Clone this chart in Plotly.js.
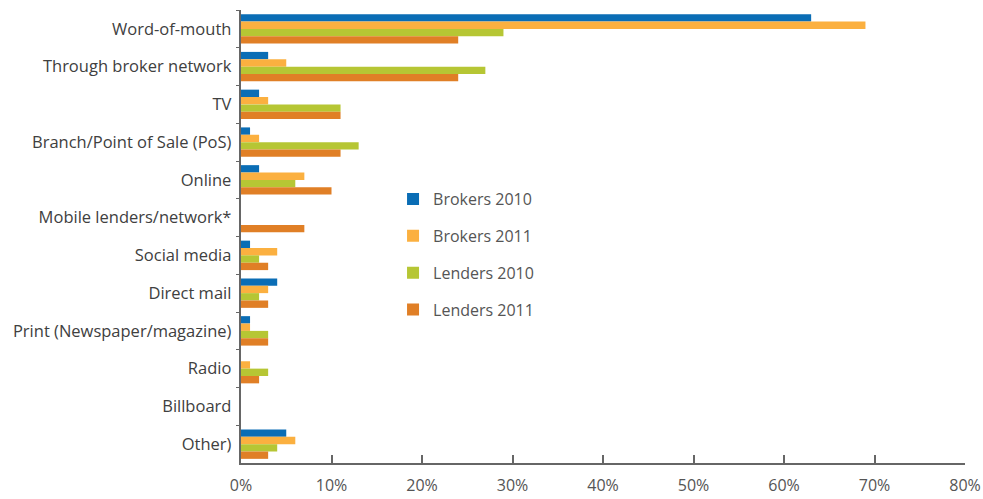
<!DOCTYPE html>
<html>
<head>
<meta charset="utf-8">
<script src="https://cdn.plot.ly/plotly-3.0.1.min.js"></script>
<style>html,body{margin:0;padding:0;background:#fff;}#chart{width:983px;height:499px;}</style>
</head>
<body>
<div id="chart"></div>
<script>
var categories = ["Word-of-mouth","Through broker network","TV","Branch/Point of Sale (PoS)","Online","Mobile lenders/network*","Social media","Direct mail","Print (Newspaper/magazine)","Radio","Billboard","Other)"];
var brokers2010 = [63,3,2,1,2,0,1,4,1,0,0,5];
var brokers2011 = [69,5,3,2,7,0,4,3,1,1,0,6];
var lenders2010 = [29,27,11,13,6,0,2,2,3,3,0,4];
var lenders2011 = [24,24,11,11,10,7,3,3,3,2,0,3];
var seriesNames = ["Brokers 2010","Brokers 2011","Lenders 2010","Lenders 2011"];
var xTickVals = [0,10,20,30,40,50,60,70,80];
var xTickText = ["0%","10%","20%","30%","40%","50%","60%","70%","80%"];

var colors = ["#0a6db5","#fbb040","#b6c634","#e07f26"];
var vals = [brokers2010, brokers2011, lenders2010, lenders2011];
var traces = vals.map(function(v,i){
  return {type:"bar", orientation:"h", x:v, y:categories, name:seriesNames[i],
    legendgroup:"g"+i, marker:{color:colors[i]}, hoverinfo:"x+y+name"};
});
var layout = {
  width:983, height:499,
  margin:{l:241, r:18, t:10, b:36},
  paper_bgcolor:"#fff", plot_bgcolor:"#fff",
  font:{family:"'Open Sans', Lato, sans-serif", size:16, color:"#404040"},
  barmode:"group", bargap:0.22, bargroupgap:0,
  showlegend:true,
  legend:{x:0.21, y:0.62, xanchor:"left", yanchor:"top", font:{size:16, color:"#555"},
    bgcolor:"rgba(0,0,0,0)", tracegroupgap:13, itemwidth:30},
  xaxis:{range:[0,80], tickvals:xTickVals, ticktext:xTickText, showgrid:false, zeroline:false,
    showline:true, linecolor:"#666", linewidth:2, ticks:"inside", ticklen:8, tickcolor:"#666", tickwidth:2,
    ticklabelstandoff:7, tickfont:{size:16, color:"#555"}, fixedrange:true},
  yaxis:{type:"category", autorange:"reversed", showgrid:false, zeroline:false, showline:true,
    linecolor:"#666", linewidth:2, ticks:"outside", tickson:"boundaries", ticklen:3, tickcolor:"#666",
    tickfont:{size:16.5, color:"#404040"}, ticksuffix:" ", fixedrange:true}
};
Plotly.newPlot("chart", traces, layout, {displayModeBar:false, staticPlot:true});
</script>
</body>
</html>
